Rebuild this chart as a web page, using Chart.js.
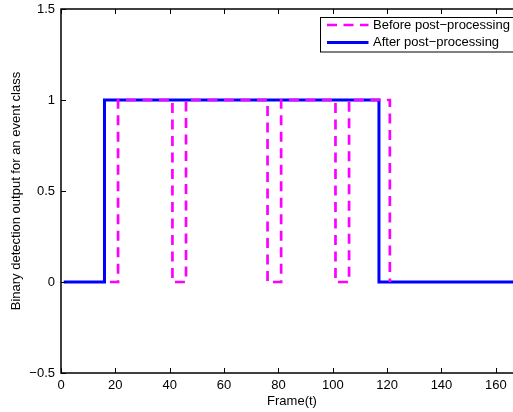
<!DOCTYPE html>
<html><head><meta charset="utf-8">
<script src="https://cdn.jsdelivr.net/npm/chart.js@4"></script>
<style>
html,body{margin:0;padding:0;background:#fff;overflow:hidden}
#wrap{width:513px;height:412px;overflow:hidden;position:relative}
#inner{width:530px;height:412px}
#c{display:block}
</style></head>
<body><div id="wrap"><div id="inner"><canvas id="c" width="530" height="412"></canvas></div></div>
<script>
const seriesNames = ['Before post\u2212processing', 'After post\u2212processing'];
const beforeFrames = [18, 21, 41, 46, 76, 81, 101, 106, 121];
const beforeValues = [0, 1, 0, 1, 0, 1, 0, 1, 0];
const afterFrames = [1, 16, 117, 170];
const afterValues = [0, 1, 0, 0];
const xTicks = [0, 20, 40, 60, 80, 100, 120, 140, 160];
const yTicks = [-0.5, 0, 0.5, 1, 1.5];
const yTickLabels = ['\u22120.5', '0', '0.5', '1', '1.5'];
const xTitle = 'Frame(t)';
const yTitle = 'Binary detection output for an event class';

const FONT = '"Liberation Sans", Arial, Helvetica, sans-serif';
const toPts = (xs, ys) => xs.map((v, i) => ({x: v, y: ys[i]}));

const framePlugin = {
  id: 'frameBox',
  afterDraw(chart) {
    const {ctx, chartArea: {left, right, top, bottom}, scales: {x, y}} = chart;
    ctx.save();
    ctx.strokeStyle = '#000';
    ctx.lineWidth = 1;
    ctx.beginPath();
    x.ticks.forEach(t => {
      const px = Math.round(x.getPixelForValue(t.value)) + 0.5;
      ctx.moveTo(px, bottom); ctx.lineTo(px, bottom - 5);
      ctx.moveTo(px, top); ctx.lineTo(px, top + 5);
    });
    y.ticks.forEach(t => {
      const py = Math.round(y.getPixelForValue(t.value)) + 0.5;
      ctx.moveTo(left, py); ctx.lineTo(left + 5, py);
      ctx.moveTo(right, py); ctx.lineTo(right - 5, py);
    });
    ctx.stroke();
    ctx.lineWidth = 1.5;
    ctx.strokeRect(left, top, right - left, bottom - top);

    // legend
    const lx = 320.5, ly = 17.5, lw = 200, lh = 34.5;
    ctx.fillStyle = '#fff';
    ctx.fillRect(lx, ly, lw, lh);
    ctx.lineWidth = 1;
    ctx.strokeRect(lx, ly, lw, lh);
    const rows = [25, 42.5];
    chart.data.datasets.forEach((ds, i) => {
      ctx.beginPath();
      ctx.strokeStyle = ds.borderColor;
      ctx.lineWidth = ds.borderWidth;
      ctx.setLineDash(ds.borderDash || []);
      ctx.moveTo(327, rows[i]);
      ctx.lineTo(368.5, rows[i]);
      ctx.stroke();
      ctx.setLineDash([]);
      ctx.fillStyle = '#000';
      ctx.font = '13px ' + FONT;
      ctx.textBaseline = 'middle';
      ctx.textAlign = 'left';
      ctx.fillText(ds.label, 373, rows[i]);
    });
    ctx.restore();
  }
};

new Chart(document.getElementById('c'), {
  type: 'line',
  data: {
    datasets: [
      {
        label: seriesNames[0],
        data: toPts(beforeFrames, beforeValues),
        borderColor: '#ff00ff',
        borderWidth: 2.7,
        borderDash: [10, 6.5],
        stepped: 'before',
        pointRadius: 0,
        fill: false
      },
      {
        label: seriesNames[1],
        data: toPts(afterFrames, afterValues),
        borderColor: '#0000ff',
        borderWidth: 3,
        stepped: 'before',
        pointRadius: 0,
        fill: false
      }
    ]
  },
  options: {
    responsive: false,
    animation: false,
    devicePixelRatio: 1,
    layout: {padding: {top: 9, right: 7, left: 0, bottom: 0}},
    plugins: {legend: {display: false}, tooltip: {enabled: false}},
    scales: {
      x: {
        type: 'linear', min: 0, max: 170,
        afterBuildTicks: s => { s.ticks = xTicks.map(v => ({value: v})); },
        afterFit: s => { s.height = 39; s.paddingLeft = 0; s.paddingRight = 0; },
        ticks: {font: {size: 13, family: FONT}, color: '#000', padding: 5, maxRotation: 0,
          callback: v => String(v)},
        grid: {display: false, drawTicks: false},
        border: {display: false},
        title: {display: true, text: xTitle, color: '#000', font: {size: 13, family: FONT},
          padding: {top: 0, bottom: 3}}
      },
      y: {
        type: 'linear', min: -0.5, max: 1.5,
        afterBuildTicks: s => { s.ticks = yTicks.map(v => ({value: v})); },
        afterFit: s => { s.width = 61; s.paddingTop = 0; s.paddingBottom = 0; },
        ticks: {font: {size: 13, family: FONT}, color: '#000', padding: 6,
          callback: v => { const i = yTicks.indexOf(v); return i >= 0 ? yTickLabels[i] : ''; }},
        grid: {display: false, drawTicks: false},
        border: {display: false},
        title: {display: true, text: yTitle, color: '#000', font: {size: 13, family: FONT},
          padding: {top: 9, bottom: 0}}
      }
    }
  },
  plugins: [framePlugin]
});
</script>
</body></html>
